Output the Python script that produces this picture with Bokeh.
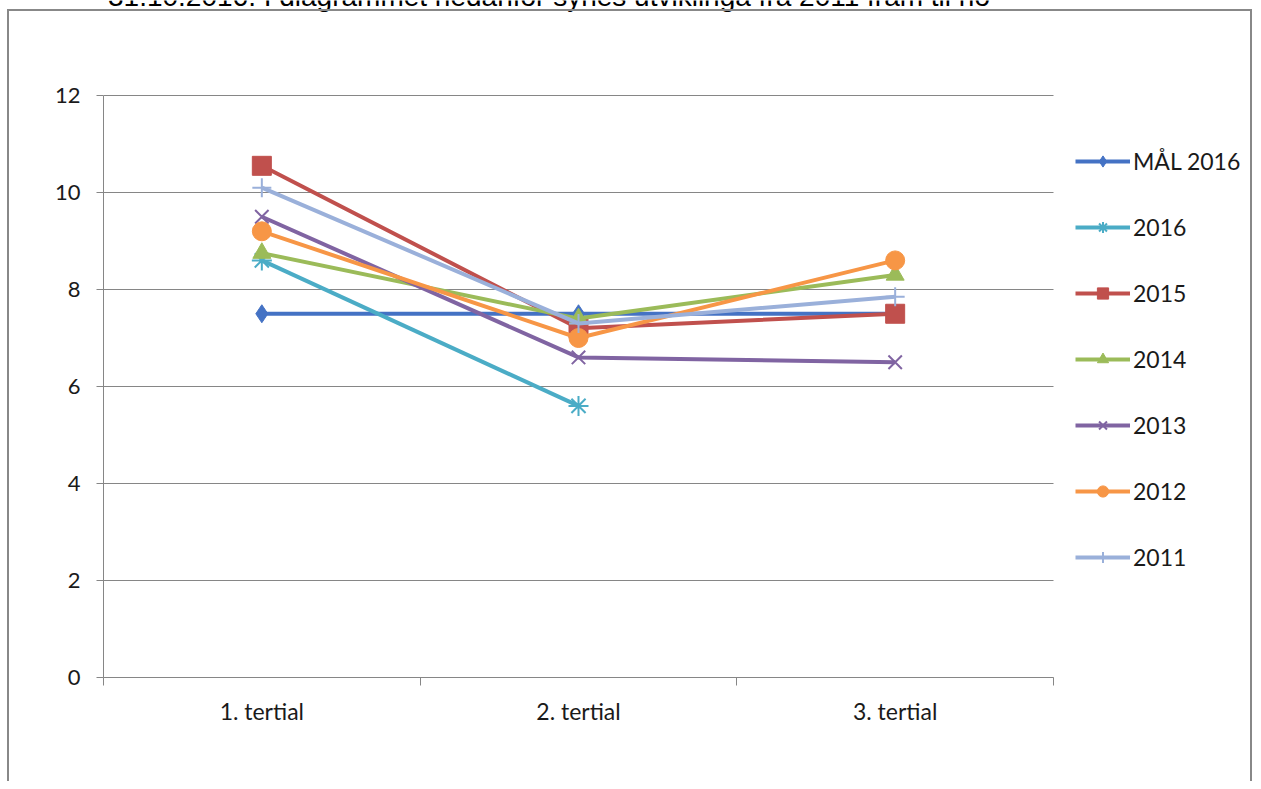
from bokeh.plotting import figure
from bokeh.models import Legend, LegendItem, FixedTicker, Label, Range1d, InlineStyleSheet
from bokeh.embed import file_html
from bokeh.resources import INLINE

# ---- data ----
categories = ["1. tertial", "2. tertial", "3. tertial"]
series_names = ["MÅL 2016", "2016", "2015", "2014", "2013", "2012", "2011"]
mal_2016 = [7.5, 7.5, 7.5]
v2016 = [8.6, 5.6, None]
v2015 = [10.55, 7.2, 7.5]
v2014 = [8.75, 7.4, 8.3]
v2013 = [9.5, 6.6, 6.5]
v2012 = [9.2, 7.0, 8.6]
v2011 = [10.1, 7.3, 7.85]
y_ticks = [0, 2, 4, 6, 8, 10, 12]
title_text = "Agresso 31.10.2016. I diagrammet nedanfor synes utviklinga frå 2011 fram til no"

series_values = [mal_2016, v2016, v2015, v2014, v2013, v2012, v2011]
colors = ["#4472C4", "#4BACC6", "#C0504D", "#9BBB59", "#8064A2", "#F79646", "#9AB0DA"]
markers = ["diamond", "asterisk", "square", "triangle", "x", "circle", "cross"]
msizes = [18, 20, 19, 18, 19, 19, 19]

FONT = "Lato"
GREY = "#868686"

W, H = 1253, 781
LEFT, BOTTOM = 103, 104
PLOT_TOP = 95                      # pixel row of the top value (12)
PLOT_W = 950                       # width of the category area in px
FRAME_W = W - LEFT                 # frame extends under the legend area
FRAME_H = H - BOTTOM               # frame extends up to the canvas top
n = len(categories)
x_end = n * FRAME_W / PLOT_W
y_top = max(y_ticks)
y_end = y_top * FRAME_H / (FRAME_H - PLOT_TOP)

p = figure(width=W, height=H, output_backend="svg", toolbar_location=None,
           x_range=Range1d(0, x_end), y_range=Range1d(min(y_ticks), y_end),
           min_border_left=LEFT, min_border_right=0, min_border_top=0,
           min_border_bottom=BOTTOM)
p.outline_line_color = None
p.background_fill_color = "white"
p.border_fill_color = "white"

# outer chart-area frame (left, top, right edges)
p.stylesheets = [InlineStyleSheet(css="""
:host::after {
  content: "";
  position: absolute;
  left: 7px; top: 9px; right: 1px; bottom: 0px;
  border-left: 2px solid #888888;
  border-top: 2px solid #888888;
  border-right: 2px solid #888888;
  pointer-events: none;
}
""")]

# horizontal gridlines limited to the category area
p.xgrid.grid_line_color = None
p.ygrid.grid_line_color = None
p.segment(x0=[0] * len(y_ticks), x1=[n] * len(y_ticks), y0=y_ticks, y1=y_ticks,
          line_color=GREY, line_width=1)

# axes
p.yaxis.bounds = (min(y_ticks), y_top)
p.yaxis.ticker = FixedTicker(ticks=y_ticks, minor_ticks=[])
p.yaxis.axis_line_color = GREY
p.yaxis.major_tick_line_color = GREY
p.yaxis.major_tick_in = 0
p.yaxis.major_tick_out = 7
p.yaxis.minor_tick_line_color = None
p.yaxis.major_label_text_font = FONT
p.yaxis.major_label_text_font_size = "22px"
p.yaxis.major_label_text_color = "#1a1a1a"
p.yaxis.major_label_standoff = 16

centers = [i + 0.5 for i in range(n)]
bounds = [float(i) for i in range(n + 1)]
p.xaxis.bounds = (0, n)
p.xaxis.ticker = FixedTicker(ticks=centers, minor_ticks=bounds)
p.xaxis.major_label_overrides = {c: lab for c, lab in zip(centers, categories)}
p.xaxis.axis_line_color = GREY
p.xaxis.major_tick_line_color = None
p.xaxis.major_tick_in = 0
p.xaxis.major_tick_out = 0
p.xaxis.minor_tick_line_color = GREY
p.xaxis.minor_tick_in = 0
p.xaxis.minor_tick_out = 8
p.xaxis.major_label_text_font = FONT
p.xaxis.major_label_text_font_size = "23px"
p.xaxis.major_label_text_color = "#1a1a1a"
p.xaxis.major_label_standoff = 11

items = []
for name, vals, col, mk, ms in zip(series_names, series_values, colors, markers, msizes):
    xs = [c for c, v in zip(centers, vals) if v is not None]
    ys = [v for v in vals if v is not None]
    r1 = p.line(xs, ys, line_color=col, line_width=4)
    lw = 2 if mk in ("asterisk", "x", "cross") else 1
    r2 = p.scatter(xs, ys, marker=mk, size=ms, fill_color=col, line_color=col, line_width=lw)
    items.append(LegendItem(label=name, renderers=[r1, r2]))

legend = Legend(items=items, location=(PLOT_W + 22, 106), orientation="vertical",
                border_line_color=None, background_fill_alpha=0,
                padding=0, margin=0, spacing=38, glyph_width=55, glyph_height=28,
                label_height=28, label_standoff=3, label_text_font=FONT,
                label_text_font_size="23px", label_text_color="#1a1a1a")
p.add_layout(legend, "center")

cap = Label(x=-3, y=-4, x_units="canvas", y_units="canvas", text=title_text,
            text_baseline="alphabetic", text_font="Liberation Sans",
            text_font_size="28px", text_color="#000000")
p.add_layout(cap)

open("out.html", "w").write(file_html(p, INLINE))
